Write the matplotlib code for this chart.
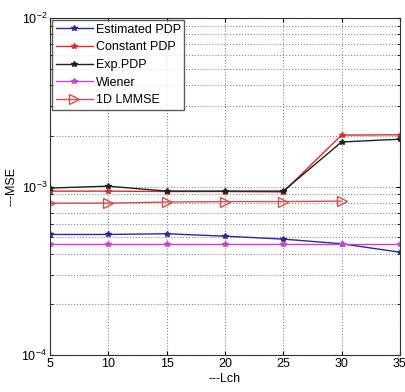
import numpy as np
import matplotlib
matplotlib.use("Agg")
import matplotlib.pyplot as plt
from matplotlib.ticker import LogLocator, NullFormatter

plt.rcParams['font.family'] = ['Liberation Sans', 'DejaVu Sans']

# -----------------------------
# Data
# -----------------------------
lch = [5, 10, 15, 20, 25, 30, 35]
est_pdp = [5.2e-4, 5.2e-4, 5.25e-4, 5.08e-4, 4.88e-4, 4.58e-4, 4.08e-4]
const_pdp = [9.4e-4, 9.4e-4, 9.35e-4, 9.35e-4, 9.3e-4, 2.02e-3, 2.03e-3]
exp_pdp = [9.8e-4, 1.006e-3, 9.4e-4, 9.4e-4, 9.4e-4, 1.84e-3, 1.91e-3]
wiener = [4.56e-4, 4.56e-4, 4.56e-4, 4.56e-4, 4.56e-4, 4.56e-4, 4.56e-4]
lch_lmmse = [5, 10, 15, 20, 25, 30]
lmmse_1d = [7.98e-4, 7.98e-4, 8.1e-4, 8.15e-4, 8.15e-4, 8.2e-4]

# -----------------------------
# Plot
# -----------------------------
fig = plt.figure(figsize=(4.06, 3.92), dpi=100)
ax = fig.add_axes([0.123, 0.094, 0.862, 0.860])

ax.semilogy(lch, est_pdp, color="#2a2aa0", marker="*", ms=4, lw=1.0, label="Estimated PDP")
ax.semilogy(lch, const_pdp, color="#d03030", marker="*", ms=4, lw=1.0, label="Constant PDP")
ax.semilogy(lch, exp_pdp, color="#202020", marker="*", ms=4, lw=1.0, label="Exp.PDP")
ax.semilogy(lch, wiener, color="#d040d0", marker="*", ms=4, lw=1.0, label="Wiener")
ax.semilogy(lch_lmmse, lmmse_1d, color="#d05050", marker=">", ms=7, mfc="none", lw=1.0,
            label="1D LMMSE")

ax.set_xlim(5, 35)
ax.set_ylim(1e-4, 1e-2)
ax.set_xticks(lch)
ax.yaxis.set_minor_locator(LogLocator(base=10, subs=np.arange(2, 10)))
ax.yaxis.set_minor_formatter(NullFormatter())

ax.grid(True, which="major", linestyle=":", color="#888888", lw=0.8)
ax.grid(True, which="minor", axis="y", linestyle=":", color="#888888", lw=0.8)

ax.tick_params(which="both", direction="in", top=True, right=True, labelsize=9, pad=2)
ax.tick_params(which="major", length=3)
ax.tick_params(which="minor", length=2)
for s in ax.spines.values():
    s.set_color("#333333")

ax.set_xlabel("---Lch", fontsize=9, labelpad=2)
ax.set_ylabel("---MSE", fontsize=9, labelpad=3)

leg = ax.legend(loc="upper left", fontsize=9, handlelength=3, borderaxespad=0.15,
                frameon=True, fancybox=False, edgecolor="#333333", labelspacing=0.45,
                handletextpad=0.2, borderpad=0.3, numpoints=1)
leg.get_frame().set_linewidth(1.0)

plt.savefig("out.png", dpi=100)
